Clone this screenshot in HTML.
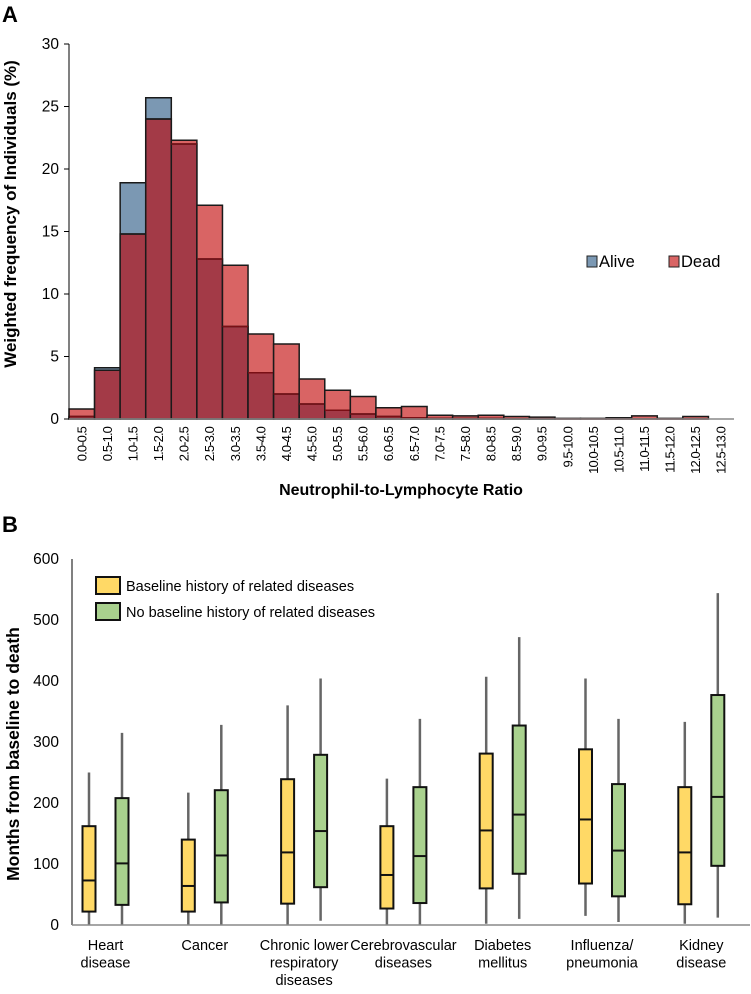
<!DOCTYPE html>
<html><head><meta charset="utf-8"><style>
body{margin:0;background:#fff;}
svg{display:block;font-family:"Liberation Sans",Arial,sans-serif;}
</style></head><body>
<svg width="751" height="994" viewBox="0 0 751 994">
<text x="2" y="22" font-size="22" font-weight="bold">A</text>
<text x="2" y="532" font-size="22" font-weight="bold">B</text>
<g id="chartA"></g>
<g id="chartB"></g>
</svg>
<script>
const binLabels=["0.0-0.5","0.5-1.0","1.0-1.5","1.5-2.0","2.0-2.5","2.5-3.0","3.0-3.5","3.5-4.0","4.0-4.5","4.5-5.0","5.0-5.5","5.5-6.0","6.0-6.5","6.5-7.0","7.0-7.5","7.5-8.0","8.0-8.5","8.5-9.0","9.0-9.5","9.5-10.0","10.0-10.5","10.5-11.0","11.0-11.5","11.5-12.0","12.0-12.5","12.5-13.0"];
const aliveVals=[0.2,4.1,18.9,25.7,22.0,12.8,7.4,3.7,2.0,1.2,0.7,0.4,0.2,0.1,0.05,0.05,0.05,0.02,0.02,0,0,0,0,0,0,0];
const deadVals=[0.8,3.9,14.8,24.0,22.3,17.1,12.3,6.8,6.0,3.2,2.3,1.8,0.9,1.0,0.3,0.25,0.3,0.2,0.15,0.05,0.05,0.1,0.25,0.05,0.2,0];
const yTicksA=[0,5,10,15,20,25,30];

const categories=[["Heart","disease"],["Cancer"],["Chronic lower","respiratory","diseases"],["Cerebrovascular","diseases"],["Diabetes","mellitus"],["Influenza/","pneumonia"],["Kidney","disease"]];
// [min,q1,median,q3,max]
const baselineStats=[[0,22,73,162,250],[0,22,64,140,217],[0,35,119,239,360],[0,27,82,162,240],[2,60,155,281,407],[15,68,173,288,404],[2,34,119,226,333]];
const noBaselineStats=[[0,33,101,208,315],[0,37,114,221,328],[7,62,154,279,404],[0,36,113,226,338],[10,84,181,327,472],[5,47,122,231,338],[12,97,210,377,544]];
const yTicksB=[0,100,200,300,400,500,600];

const NS="http://www.w3.org/2000/svg";
function mk(tag,attrs,parent){const e=document.createElementNS(NS,tag);for(const k in attrs)e.setAttribute(k,attrs[k]);parent.appendChild(e);return e;}

// ---- Chart A ----
const gA=document.getElementById('chartA');
const ax0=69,ax1=734,ay0=419,ay1=44;
const yA=v=>ay0-(v/30)*(ay0-ay1);
const bw=(ax1-ax0)/binLabels.length;
const xA=i=>ax0+i*bw;
let e;
yTicksA.forEach(t=>{
  e=mk('line',{x1:ax0-5,x2:ax0,y1:yA(t),y2:yA(t),stroke:'#000','stroke-width':1},gA);
  
  e=mk('text',{x:ax0-10,y:yA(t)+5,'font-size':15.5,'text-anchor':'end',fill:'#000'},gA);e.textContent=t;
  
});
binLabels.forEach((lab,i)=>{
  const a=aliveVals[i],d=deadVals[i],x=xA(i);
  const hi=Math.max(a,d),lo=Math.min(a,d);
  if(hi>0){
    e=mk('rect',{x:x,y:yA(hi),width:bw,height:ay0-yA(hi),fill:a>d?'#7b98b3':'#d96464',stroke:'#1a1a1a','stroke-width':1.5},gA);
    
    e=mk('rect',{x:x,y:yA(lo),width:bw,height:ay0-yA(lo),fill:'#a33a47',stroke:'#1a1a1a','stroke-width':1.5},gA);
    
    mk('line',{x1:x,x2:x+bw,y1:yA(lo),y2:yA(lo),stroke:a>d?'#1a1a1a':'#7a0f15','stroke-width':1.5},gA);
  }
  e=mk('text',{transform:`translate(${x+bw/2+4.5},427) rotate(-90)`,'font-size':13,'text-anchor':'end',fill:'#000','letter-spacing':'-0.9'},gA);
  e.textContent=lab;
});
e=mk('line',{x1:ax0,x2:ax0,y1:ay1,y2:ay0,stroke:'#000','stroke-width':1},gA);
e=mk('line',{x1:ax0,x2:ax1,y1:ay0,y2:ay0,stroke:'#888','stroke-width':1.5},gA);
e=mk('text',{transform:'translate(16,214) rotate(-90)','font-size':17,'font-weight':'bold','text-anchor':'middle'},gA);e.textContent='Weighted frequency of Individuals (%)';

e=mk('text',{x:401,y:495,'font-size':16,'font-weight':'bold','text-anchor':'middle'},gA);e.textContent='Neutrophil-to-Lymphocyte Ratio';

[['Alive','#7b98b3',587],['Dead','#d96464',669]].forEach(([n,c,x])=>{
  e=mk('rect',{x:x,y:256,width:10,height:11,fill:c,stroke:'#222','stroke-width':1},gA);
  e=mk('text',{x:x+12,y:267,'font-size':16.5},gA);e.textContent=n;
});

// ---- Chart B ----
const gB=document.getElementById('chartB');
const bx0=72,bx1=750,by0=925,by1=559;
const yB=v=>by0-(v/600)*(by0-by1);
const gc=i=>105.5+i*99.3;
const boxW=13;
yTicksB.forEach(t=>{
  e=mk('text',{x:59,y:yB(t)+5,'font-size':15.5,'text-anchor':'end'},gB);e.textContent=t;
  
});
function drawBox(s,cx,fill,name){
  e=mk('line',{x1:cx,x2:cx,y1:yB(s[0]),y2:yB(s[4]),stroke:'#666','stroke-width':2.5},gB);
  e=mk('rect',{x:cx-boxW/2,y:yB(s[3]),width:boxW,height:yB(s[1])-yB(s[3]),fill:fill,stroke:'#111','stroke-width':2},gB);
  e=mk('line',{x1:cx-boxW/2,x2:cx+boxW/2,y1:yB(s[2]),y2:yB(s[2]),stroke:'#111','stroke-width':2},gB);
}
categories.forEach((c,i)=>{
  drawBox(baselineStats[i],gc(i)-16.5,'#ffd966','box-baseline');
  drawBox(noBaselineStats[i],gc(i)+16.5,'#a9d18e','box-no-baseline');
  c.forEach((line,j)=>{
    e=mk('text',{x:gc(i),y:950+j*17.5,'font-size':14.5,'text-anchor':'middle'},gB);e.textContent=line;
    
  });
});
e=mk('line',{x1:bx0,x2:bx0,y1:by1,y2:by0,stroke:'#000','stroke-width':1},gB);
e=mk('line',{x1:bx0,x2:bx1,y1:by0,y2:by0,stroke:'#888','stroke-width':1.5},gB);
e=mk('text',{transform:'translate(19,754) rotate(-90)','font-size':17.5,'font-weight':'bold','text-anchor':'middle'},gB);e.textContent='Months from baseline to death';

[['Baseline history of related diseases','#ffd966',577],['No baseline history of related diseases','#a9d18e',603]].forEach(([n,c,y],k)=>{
  e=mk('rect',{x:96,y:y,width:24,height:17,fill:c,stroke:'#111','stroke-width':2},gB);
  e=mk('text',{x:126,y:y+14,'font-size':14.5},gB);e.textContent=n;
});
</script>
</body></html>
